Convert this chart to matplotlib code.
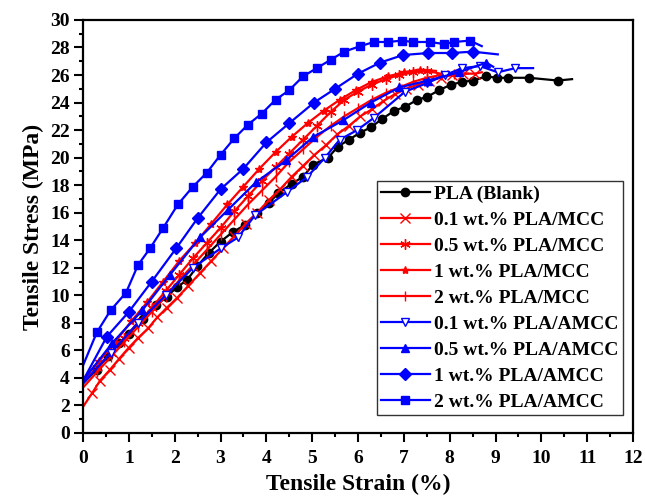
import matplotlib.pyplot as plt
from matplotlib.ticker import MultipleLocator

plt.switch_backend("Agg")
plt.rcParams["font.family"] = ["Liberation Serif", "DejaVu Serif"]
plt.rcParams["font.weight"] = "bold"

# strain (%) / stress (MPa) for each sample
blank_x = [0, 0.3, 0.55, 0.79, 1.0, 1.3, 1.6, 1.83, 2.05, 2.27, 2.49, 2.75, 3.0, 3.27, 3.53,
           3.8, 4.05, 4.26, 4.55, 4.8, 5.02, 5.35, 5.56, 5.8, 6.04, 6.28, 6.52, 6.79, 7.03,
           7.29, 7.5, 7.77, 8.03, 8.27, 8.51, 8.8, 9.03, 9.27, 9.73, 10.36, 10.67]
blank_y = [3.6, 4.6, 5.6, 6.5, 7.2, 8.3, 9.3, 9.9, 10.6, 11.1, 12.1, 13.1, 13.9, 14.6, 15.1,
           16.0, 16.7, 17.4, 18.1, 18.6, 19.5, 20.0, 20.8, 21.3, 21.8, 22.2, 22.8, 23.4, 23.7,
           24.2, 24.4, 24.9, 25.3, 25.5, 25.6, 25.9, 25.8, 25.8, 25.8, 25.6, 25.7]

mcc01_x = [0, 0.2, 0.37, 0.59, 0.79, 1.0, 1.2, 1.42, 1.62, 1.83, 2.05, 2.3, 2.55, 2.8, 3.05,
           3.3, 3.55, 3.8, 4.05, 4.3, 4.55, 4.8, 5.05, 5.3, 5.55, 5.8, 6.05, 6.3, 6.55, 6.8,
           7.05, 7.3, 7.55, 7.8, 8.05, 8.3, 8.55, 8.7]
mcc01_y = [1.9, 2.9, 3.8, 4.6, 5.4, 6.2, 6.9, 7.6, 8.4, 9.1, 9.8, 10.7, 11.6, 12.5, 13.4,
           14.3, 15.2, 16.0, 16.9, 17.7, 18.6, 19.4, 20.2, 20.9, 21.7, 22.3, 23.0, 23.5, 24.1,
           24.6, 25.0, 25.3, 25.6, 25.8, 26.0, 26.1, 26.1, 26.2]

mcc05_x = [0, 0.3, 0.6, 0.9, 1.2, 1.5, 1.8, 2.1, 2.4, 2.7, 3.0, 3.3, 3.6, 3.9, 4.2, 4.5,
           4.8, 5.1, 5.4, 5.7, 6.0, 6.3, 6.6, 6.9, 7.2, 7.5, 7.8]
mcc05_y = [3.7, 4.7, 5.8, 6.9, 8.0, 9.1, 10.3, 11.5, 12.7, 13.8, 14.9, 16.1, 17.2, 18.3,
           19.3, 20.3, 21.3, 22.3, 23.3, 24.2, 24.8, 25.3, 25.7, 26.0, 26.2, 26.3, 26.1]

mcc1_x = [0, 0.35, 0.7, 1.05, 1.4, 1.75, 2.1, 2.45, 2.8, 3.15, 3.5, 3.85, 4.2, 4.55, 4.9,
          5.25, 5.6, 5.95, 6.3, 6.65, 7.0, 7.35, 7.7]
mcc1_y = [3.9, 5.2, 6.6, 8.1, 9.5, 11.0, 12.5, 13.8, 15.2, 16.6, 17.9, 19.2, 20.4, 21.5,
          22.5, 23.4, 24.2, 24.9, 25.5, 25.9, 26.2, 26.4, 26.3]

mcc2_x = [0, 0.3, 0.6, 0.9, 1.2, 1.5, 1.8, 2.1, 2.4, 2.7, 3.0, 3.3, 3.6, 3.9, 4.2, 4.5, 4.8,
          5.1, 5.4, 5.7, 6.0, 6.3, 6.6, 6.9, 7.2, 7.5, 7.8, 8.1, 8.4]
mcc2_y = [3.3, 4.4, 5.5, 6.6, 7.7, 8.8, 9.9, 11.1, 12.2, 13.3, 14.4, 15.5, 16.6, 17.6, 18.6,
          19.7, 20.6, 21.5, 22.3, 23.0, 23.6, 24.2, 24.7, 25.1, 25.5, 25.8, 26.0, 26.1, 26.1]

amcc01_x = [0, 0.6, 1.2, 1.8, 2.4, 3.0, 3.38, 3.75, 4.45, 4.89, 5.28, 5.6, 5.98, 6.35, 7.03,
            7.5, 7.9, 8.27, 8.66, 9.05, 9.43, 9.82]
amcc01_y = [3.6, 5.8, 8.0, 10.0, 12.0, 13.4, 14.2, 15.8, 17.5, 18.6, 20.0, 21.3, 22.0, 22.9,
            24.8, 25.4, 26.0, 26.5, 26.65, 26.2, 26.5, 26.5]

amcc05_x = [0, 0.63, 1.29, 1.9, 2.55, 3.16, 3.77, 4.43, 5.02, 5.67, 6.28, 6.9, 7.53, 8.2,
            8.8, 8.95]
amcc05_y = [3.8, 6.5, 8.9, 11.5, 14.2, 16.2, 18.2, 19.8, 21.5, 22.7, 24.0, 25.1, 25.6, 26.2,
            26.9, 26.6]

amcc1_x = [0, 0.52, 1.0, 1.5, 2.03, 2.5, 3.0, 3.5, 4.0, 4.5, 5.04, 5.5, 6.0, 6.48, 6.98,
           7.53, 8.05, 8.5, 9.05]
amcc1_y = [3.8, 7.0, 8.8, 11.0, 13.4, 15.6, 17.7, 19.2, 21.1, 22.5, 24.0, 25.0, 26.1, 26.9,
           27.45, 27.6, 27.6, 27.7, 27.5]

amcc2_x = [0, 0.3, 0.6, 0.94, 1.2, 1.46, 1.75, 2.07, 2.4, 2.7, 3.0, 3.3, 3.6, 3.9, 4.2, 4.5,
           4.8, 5.1, 5.4, 5.7, 6.05, 6.35, 6.65, 6.96, 7.2, 7.57, 7.88, 8.1, 8.44, 8.7]
amcc2_y = [4.9, 7.3, 8.9, 10.2, 12.2, 13.4, 14.9, 16.6, 17.9, 18.9, 20.2, 21.4, 22.4, 23.2,
           24.2, 24.9, 25.9, 26.5, 27.1, 27.7, 28.1, 28.4, 28.4, 28.5, 28.4, 28.4, 28.25, 28.4,
           28.5, 28.1]

series = [
    (blank_x, blank_y, "PLA (Blank)", "black", "o", "black"),
    (mcc01_x, mcc01_y, "0.1 wt.% PLA/MCC", "red", "x", "red"),
    (mcc05_x, mcc05_y, "0.5 wt.% PLA/MCC", "red", (6, 2, 0), "red"),
    (mcc1_x, mcc1_y, "1 wt.% PLA/MCC", "red", "*", "red"),
    (mcc2_x, mcc2_y, "2 wt.% PLA/MCC", "red", "|", "red"),
    (amcc01_x, amcc01_y, "0.1 wt.% PLA/AMCC", "blue", "v", "white"),
    (amcc05_x, amcc05_y, "0.5 wt.% PLA/AMCC", "blue", "^", "blue"),
    (amcc1_x, amcc1_y, "1 wt.% PLA/AMCC", "blue", "D", "blue"),
    (amcc2_x, amcc2_y, "2 wt.% PLA/AMCC", "blue", "s", "blue"),
]

fig = plt.figure(figsize=(6.45, 4.99), dpi=100)
ax = fig.add_axes([0.1287, 0.1323, 0.8527, 0.8277])

for xs, ys, label, color, marker, face in series:
    ms = 6
    if marker in ("x", "|", (6, 2, 0)):
        ms = 7.5
    ax.plot(xs, ys, color=color, lw=1.6, marker=marker, ms=ms, mfc=face, mec=color,
            mew=1.0, markevery=list(range(1, len(xs) - 1)), label=label)

ax.set_xlim(0, 12)
ax.set_ylim(0, 30)
ax.xaxis.set_major_locator(MultipleLocator(1))
ax.xaxis.set_minor_locator(MultipleLocator(0.5))
ax.yaxis.set_major_locator(MultipleLocator(2))
ax.yaxis.set_minor_locator(MultipleLocator(1))
ax.tick_params(which="both", direction="out", width=1.5, top=False, right=False,
               labelsize=14)
ax.tick_params(axis="x", pad=6)
ax.tick_params(axis="y", pad=3)
ax.tick_params(which="major", length=6.5)
ax.tick_params(which="minor", length=3)
for s in ax.spines.values():
    s.set_linewidth(1.6)

ax.set_xlabel("Tensile Strain (%)", fontsize=17, fontweight="bold", labelpad=5)
ax.set_ylabel("Tensile Stress (MPa)", fontsize=17, fontweight="bold", labelpad=4)

leg = ax.legend(loc="lower right", bbox_to_anchor=(0.982, 0.044), frameon=True,
                fancybox=False, edgecolor="black", handlelength=2.5,
                handletextpad=0.25, labelspacing=0.43, borderpad=0.22,
                borderaxespad=0.0, prop={"weight": "bold", "size": 14})
leg.get_frame().set_linewidth(1.0)

fig.savefig("out.png", dpi=100)
